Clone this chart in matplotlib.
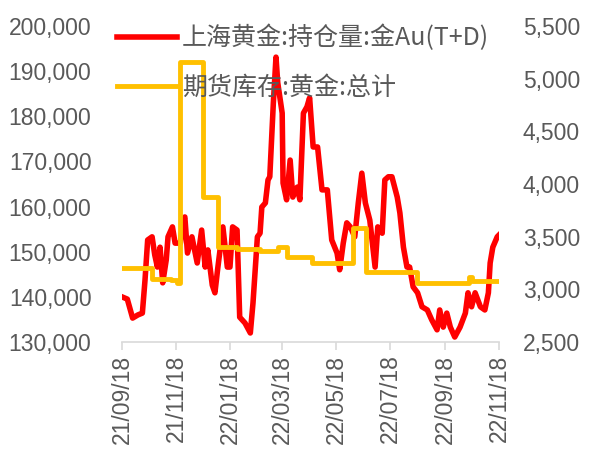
import pandas as pd
import matplotlib
matplotlib.use("Agg")
from matplotlib import pyplot as plt
import matplotlib.dates as mdates
from matplotlib.ticker import FuncFormatter

# 上海黄金 Au(T+D) 持仓量 (left axis)
hold_dates = [
    "2021-09-18", "2021-09-24", "2021-09-30", "2021-10-06", "2021-10-11",
    "2021-10-14", "2021-10-17", "2021-10-22", "2021-10-25", "2021-10-28",
    "2021-10-31", "2021-11-03", "2021-11-07", "2021-11-09", "2021-11-14",
    "2021-11-17", "2021-11-23", "2021-11-26", "2021-11-28", "2021-12-01",
    "2021-12-06", "2021-12-12", "2021-12-17", "2021-12-21", "2021-12-24",
    "2021-12-29", "2022-01-01", "2022-01-04", "2022-01-10", "2022-01-15",
    "2022-01-18", "2022-01-21", "2022-01-26", "2022-01-29", "2022-02-04",
    "2022-02-10", "2022-02-13", "2022-02-18", "2022-02-21", "2022-02-23",
    "2022-02-27", "2022-03-02", "2022-03-04", "2022-03-08", "2022-03-11",
    "2022-03-13", "2022-03-18", "2022-03-19", "2022-03-23", "2022-03-27",
    "2022-03-30", "2022-04-04", "2022-04-07", "2022-04-11", "2022-04-15",
    "2022-04-18", "2022-04-22", "2022-04-27", "2022-05-02", "2022-05-08",
    "2022-05-13", "2022-05-19", "2022-05-22", "2022-05-26", "2022-05-30",
    "2022-06-03", "2022-06-08", "2022-06-12", "2022-06-16", "2022-06-20",
    "2022-06-25", "2022-07-01", "2022-07-04", "2022-07-09", "2022-07-12",
    "2022-07-16", "2022-07-20", "2022-07-26", "2022-07-29", "2022-08-02",
    "2022-08-06", "2022-08-09", "2022-08-13", "2022-08-18", "2022-08-23",
    "2022-08-29", "2022-09-03", "2022-09-09", "2022-09-12", "2022-09-16",
    "2022-09-20", "2022-09-24", "2022-09-29", "2022-10-05", "2022-10-11",
    "2022-10-14", "2022-10-18", "2022-10-22", "2022-10-28", "2022-11-02",
    "2022-11-06", "2022-11-08", "2022-11-11", "2022-11-16", "2022-11-18",
]
hold_values = [
    140000, 139500, 135300, 136000, 136400,
    143700, 152600, 153300, 149300, 146600,
    151000, 143100, 148200, 153300, 155500,
    151900, 151900, 157000, 157700, 149700,
    153300, 147500, 154800, 146600, 150400,
    142600, 140900, 146000, 155500, 146600,
    146600, 155500, 154800, 135500, 134200,
    132000, 138600, 153300, 154100, 159900,
    160800, 165900, 166600, 182900, 193100,
    187400, 180700, 165200, 161500, 170300,
    162100, 164300, 161500, 180700, 182100,
    184100, 173200, 173200, 163700, 163700,
    152600, 149700, 146000, 151900, 156400,
    155500, 153300, 160800, 167400, 160800,
    157000, 146600, 155500, 154100, 165900,
    166600, 166600, 162100, 158600, 151000,
    146600, 146600, 142200, 140900, 137800,
    137100, 134900, 132700, 137100, 133300,
    136400, 133300, 131100, 133300, 136400,
    140900, 137800, 140900, 137800, 137100,
    140900, 147500, 151000, 153300, 153700,
]

# 期货库存:黄金:总计 (right axis), weekly steps
stock_dates = [
    "2021-09-18", "2021-10-22", "2021-11-12", "2021-11-19", "2021-11-23",
    "2021-12-18", "2022-01-04", "2022-01-26", "2022-02-21", "2022-03-13",
    "2022-03-23", "2022-04-21", "2022-06-06", "2022-06-21", "2022-08-17",
    "2022-10-15", "2022-10-18", "2022-11-18",
]
stock_values = [
    3200, 3100, 3090, 3060, 5160,
    3880, 3400, 3380, 3360, 3400,
    3310, 3250, 3580, 3160, 3060,
    3120, 3080, 3080,
]

tick_dates = ["2021-09-18", "2021-11-18", "2022-01-18", "2022-03-18",
              "2022-05-18", "2022-07-18", "2022-09-18", "2022-11-18"]

hold_label = "上海黄金:持仓量:金Au(T+D)"
stock_label = "期货库存:黄金:总计"

grey = "#595959"
light = "#D9D9D9"

plt.rcParams["font.family"] = ["Liberation Sans", "DejaVu Sans"]

fig = plt.figure(figsize=(5.91, 4.57), dpi=100)
ax = fig.add_axes([122 / 591, 1 - 342 / 457, 377 / 591, 316 / 457])
ax2 = ax.twinx()

l1, = ax.plot(pd.to_datetime(hold_dates), hold_values, color="#FF0000",
              lw=4, solid_joinstyle="round")
l2, = ax2.plot(pd.to_datetime(stock_dates), stock_values, color="#FFC000",
               lw=3.5, drawstyle="steps-post")

ax.set_xlim(pd.Timestamp(tick_dates[0]), pd.Timestamp(tick_dates[-1]))
ax.set_ylim(130000, 200000)
ax2.set_ylim(2500, 5500)
ax.set_yticks(range(130000, 200001, 10000))
ax2.set_yticks(range(2500, 5501, 500))
ax.yaxis.set_major_formatter(FuncFormatter(lambda v, p: f"{int(v):,}"))
ax2.yaxis.set_major_formatter(FuncFormatter(lambda v, p: f"{int(v):,}"))

ax.set_xticks(pd.to_datetime(tick_dates))
ax.xaxis.set_major_formatter(mdates.DateFormatter("%y/%m/%d"))
for lab in ax.get_xticklabels():
    lab.set_rotation(90)

for a in (ax, ax2):
    for side in ("top", "left", "right", "bottom"):
        a.spines[side].set_visible(False)
ax.spines["bottom"].set_visible(True)
ax.spines["bottom"].set_color(light)
ax.spines["bottom"].set_linewidth(1.2)

ax.tick_params(axis="x", colors=light, labelcolor=grey, labelsize=16.5,
               length=6, width=1.2, pad=3)
ax.tick_params(axis="y", length=0, labelcolor=grey, labelsize=16.5, pad=22)
ax2.tick_params(axis="y", length=0, labelcolor=grey, labelsize=16.5, pad=17)

leg = fig.legend([l1, l2], [hold_label, stock_label], loc="upper left",
                 bbox_to_anchor=(117 / 591, 1 - 25 / 457), frameon=False,
                 borderpad=0, borderaxespad=0, handlelength=2.4,
                 handletextpad=0.2, labelspacing=0.95,
                 prop={"family": ["Noto Sans CJK SC", "DejaVu Sans"], "size": 18})
for t in leg.get_texts():
    t.set_color(grey)

fig.savefig("out.png", dpi=100)
